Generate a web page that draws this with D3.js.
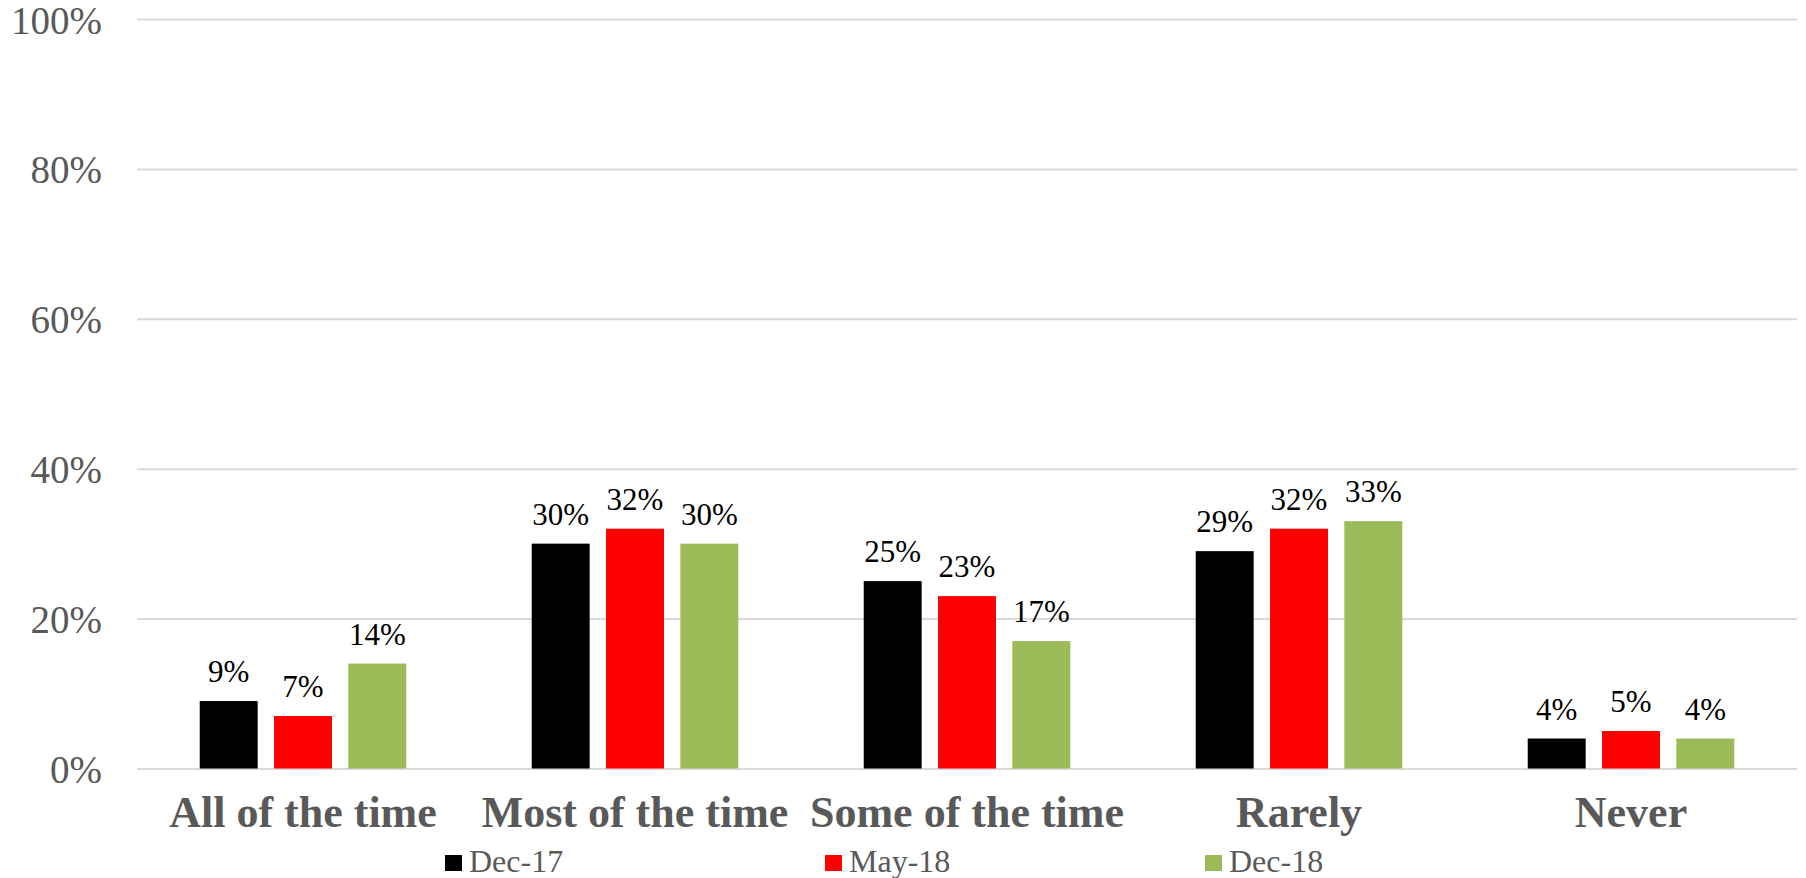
<!DOCTYPE html>
<head>
    <meta charset="utf-8">
    <script src="https://d3js.org/d3.v7.min.js"></script>
    <style>
body {
  margin: 0;
  background: #fff;
}
svg {
  display: block;
}
svg text {
  font-family: "Liberation Serif", "DejaVu Serif", serif !important;
}
</style>
</head>
<body>
    <svg></svg>
</body>

<script>
    // chart data
    var categories = ["All of the time", "Most of the time", "Some of the time", "Rarely", "Never"];
    var seriesNames = ["Dec-17", "May-18", "Dec-18"];
    var seriesColors = ["#000000", "#ff0000", "#9bbb59"];
    var dec17 = [9, 30, 25, 29, 4];
    var may18 = [7, 32, 23, 32, 5];
    var dec18 = [14, 30, 17, 33, 4];
    var yTicks = [0, 20, 40, 60, 80, 100];

    var seriesValues = [dec17, may18, dec18];

    var width = 1806;
    var height = 878;
    var plotLeft = 137, plotRight = 1797;
    var plotTop = 19, plotBottom = 768.5;

    var svg = d3.select('svg')
        .attr('width', width)
        .attr('height', height);

    var x0 = d3.scaleBand()
        .domain(categories)
        .range([plotLeft, plotRight])
        .padding(0);

    var x1 = d3.scaleBand()
        .domain(seriesNames)
        .range([0, x0.bandwidth()])
        .paddingInner(0.22)
        .paddingOuter(0.844);

    var y = d3.scaleLinear()
        .domain([0, 100])
        .range([plotBottom, plotTop]);

    // gridlines + y labels
    var yAxis = d3.axisLeft(y)
        .tickValues(yTicks)
        .tickSize(-(plotRight - plotLeft))
        .tickPadding(35)
        .tickFormat(function (d) { return d + "%"; });

    var ga = svg.append('g')
        .attr('transform', 'translate(' + plotLeft + ',0)')
        .call(yAxis);
    ga.select('.domain').remove();
    ga.selectAll('.tick line')
        .attr('stroke', '#d9d9d9')
        .attr('stroke-width', 2);
    ga.selectAll('.tick text')
        .attr('fill', '#595959')
        .attr('dy', '0.36em')
        .style('font-size', '39px');

    // bars
    var rows = [];
    categories.forEach(function (c, i) {
        seriesNames.forEach(function (s, j) {
            rows.push({ cat: c, series: s, value: seriesValues[j][i], color: seriesColors[j] });
        });
    });

    var bars = svg.append('g');
    bars.selectAll('rect')
        .data(rows)
        .enter().append('rect')
        .attr('x', function (d) { return x0(d.cat) + x1(d.series); })
        .attr('y', function (d) { return y(d.value); })
        .attr('width', x1.bandwidth())
        .attr('height', function (d) { return y(0) - y(d.value); })
        .style('fill', function (d) { return d.color; });

    // data labels
    bars.selectAll('text')
        .data(rows)
        .enter().append('text')
        .attr('x', function (d) { return x0(d.cat) + x1(d.series) + x1.bandwidth() / 2; })
        .attr('y', function (d) { return y(d.value) - 19; })
        .attr('text-anchor', 'middle')
        .style('font-size', '31px')
        .style('fill', '#000')
        .text(function (d) { return d.value + "%"; });

    // category labels
    svg.append('g').selectAll('text')
        .data(categories)
        .enter().append('text')
        .attr('x', function (d) { return x0(d) + x0.bandwidth() / 2; })
        .attr('y', 827)
        .attr('text-anchor', 'middle')
        .style('font-size', '44px')
        .style('font-weight', 'bold')
        .style('fill', '#595959')
        .text(function (d) { return d; });

    // legend
    var legend = svg.append('g').selectAll('g')
        .data(seriesNames)
        .enter().append('g')
        .attr('transform', function (d, i) { return 'translate(' + (445 + i * 380) + ',855)'; });
    legend.append('rect')
        .attr('width', 17)
        .attr('height', 16)
        .style('fill', function (d, i) { return seriesColors[i]; });
    legend.append('text')
        .attr('x', 24)
        .attr('y', 16.5)
        .style('font-size', '32px')
        .style('fill', '#595959')
        .text(function (d) { return d; });
</script>
